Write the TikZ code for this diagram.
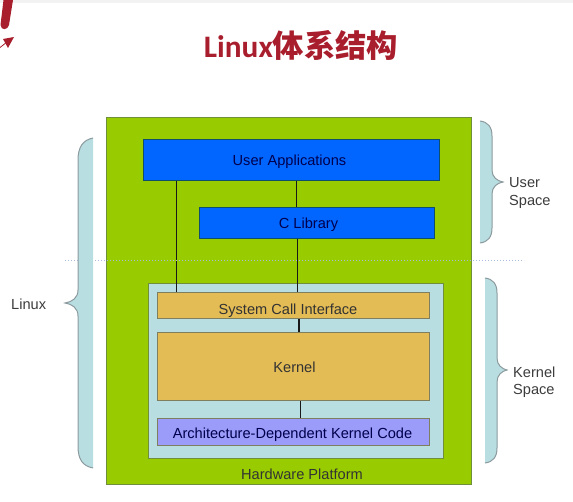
\documentclass[tikz,border=0pt]{standalone}
\usepackage{fontspec}
\setmainfont{Liberation Sans}
\newfontfamily\titlefont{Carlito}
\newfontfamily\cjk{Noto Sans CJK SC}
\definecolor{hwgreen}{HTML}{99CC00}
\definecolor{hwedge}{HTML}{6F8F3A}
\definecolor{appblue}{HTML}{0066FF}
\definecolor{appedge}{HTML}{0F4F6B}
\definecolor{kernback}{HTML}{B8DEE2}
\definecolor{kernfill}{HTML}{E4BC55}
\definecolor{kernedge}{HTML}{7F7F5F}
\definecolor{archfill}{HTML}{9B9BFA}
\definecolor{titlered}{HTML}{A91E2D}
\definecolor{dotblue}{HTML}{A9BBDD}
\definecolor{bracegray}{HTML}{8C9A9E}
\definecolor{labelgray}{HTML}{3C3C3C}
\tikzset{
  layer/.style={draw, line width=1pt, inner sep=0pt, anchor=north west},
  appbox/.style={layer, draw=appedge, fill=appblue},
  kernbox/.style={layer, draw=kernedge, fill=kernfill},
  apptext/.style={text=blue!30!black, inner sep=0pt},
  kerntext/.style={text=black!80, inner sep=0pt},
  link/.style={draw=black!90, line width=1.9pt},
  sidelabel/.style={text=labelgray, align=left, inner sep=0pt}
}
\begin{document}
\begin{tikzpicture}[x=1pt, y=-1pt, font=\fontsize{14.6}{17.5}\selectfont]
        \useasboundingbox (0,0) rectangle (573,502);
        % page furniture
        \fill[black!5] (0,0) rectangle (573,3);
        \fill[titlered] (3.5,0) -- (13,0) -- (9,25) .. controls (8,30) and (1,31) .. (0.5,25) -- cycle;
        \fill[titlered] (14,37) -- (3,39) -- (8,48) -- cycle;
        \draw[titlered, line width=0.8pt] (0,47.5) -- (7,42);
        \node[text=titlered, inner sep=0pt, font=\fontsize{31.3}{34}\selectfont\bfseries] (title) at (301,45) {{\titlefont Linux}{\cjk 体系结构}};
        % hardware and the nested layers
        \node[layer, draw=hwedge, fill=hwgreen, minimum width=365pt, minimum height=367pt] (hardware) at (106,117) {};
        \node[layer, draw=hwedge, fill=kernback, minimum width=295pt, minimum height=175pt] (kernspace) at (148,283) {};
        \node[appbox, minimum width=296pt, minimum height=41pt] (userapps) at (143,139) {};
        \node[appbox, minimum width=235pt, minimum height=31pt] (clib) at (199,207) {};
        \node[kernbox, minimum width=272pt, minimum height=26.5pt] (syscall) at (157,292) {};
        \node[kernbox, minimum width=272pt, minimum height=68pt] (kernel) at (157,332) {};
        \node[layer, draw=kernedge, fill=archfill, minimum width=272pt, minimum height=26.5pt] (arch) at (157,418) {};
        \node[apptext] (userappstext) at ([xshift=-2pt, yshift=-1.5pt]userapps) {User Applications};
        \node[apptext] (clibtext) at ([xshift=-8.5pt, yshift=-1.5pt]clib) {C Library};
        \node[kerntext] (syscalltext) at ([xshift=-5.5pt, yshift=-4.5pt]syscall) {System Call Interface};
        \node[kerntext] (kerneltext) at ([xshift=1pt, yshift=-0.5pt]kernel) {Kernel};
        \node[apptext] (archtext) at ([xshift=-1pt, yshift=-2.5pt]arch) {Architecture-Dependent Kernel Code};
        \node[kerntext] (hwlabel) at (302,474) {Hardware Platform};
        % connectors
        \draw[link] ([xshift=-115pt]userapps.south) -- ([xshift=-117pt]syscall.north);
        \draw[link] ([xshift=5pt]userapps.south) -- ([xshift=-20.5pt]clib.north);
        \draw[link] ([xshift=-19.5pt]clib.south) -- ([xshift=4pt]syscall.north);
        \draw[link] ([xshift=5.5pt]syscall.south) -- ([xshift=5.5pt]kernel.north);
        \draw[link] ([xshift=7pt]kernel.south) -- ([xshift=7pt]arch.north);
        % boundary between the spaces
        \draw[dotblue, line width=1pt, dotted] (65,260.7) -- (524,260.7);
        % braces
        \path[fill=kernback] (93,138) .. controls (83,140) and (78,147) .. (78,160) -- (78,290) .. controls (78,298) and (72,302) .. (65,303) .. controls (72,304) and (78,308) .. (78,316) -- (78,446) .. controls (78,460) and (83,466) .. (93,468) -- cycle;
        \draw[bracegray, line width=1pt] (93,138) .. controls (83,140) and (78,147) .. (78,160) -- (78,290) .. controls (78,298) and (72,302) .. (65,303) .. controls (72,304) and (78,308) .. (78,316) -- (78,446) .. controls (78,460) and (83,466) .. (93,468);
        \path[fill=kernback] (480,121) .. controls (488,122) and (492,127) .. (492,136) -- (492,170) .. controls (492,177) and (497,181) .. (503,182) .. controls (497,183) and (492,187) .. (492,194) -- (492,228) .. controls (492,237) and (488,242) .. (480,243) -- cycle;
        \draw[bracegray, line width=1pt] (480,121) .. controls (488,122) and (492,127) .. (492,136) -- (492,170) .. controls (492,177) and (497,181) .. (503,182) .. controls (497,183) and (492,187) .. (492,194) -- (492,228) .. controls (492,237) and (488,242) .. (480,243);
        \path[fill=kernback] (485,278) .. controls (493,279) and (497,284) .. (497,293) -- (497,358) .. controls (497,365) and (502,369) .. (507,370) .. controls (502,371) and (497,375) .. (497,382) -- (497,448) .. controls (497,457) and (493,462) .. (485,463) -- cycle;
        \draw[bracegray, line width=1pt] (485,278) .. controls (493,279) and (497,284) .. (497,293) -- (497,358) .. controls (497,365) and (502,369) .. (507,370) .. controls (502,371) and (497,375) .. (497,382) -- (497,448) .. controls (497,457) and (493,462) .. (485,463);
        % side labels
        \node[sidelabel, anchor=west] (linuxlabel) at (11,304) {Linux};
        \node[sidelabel, anchor=west] (userlabel) at (509,193) {User\\Space};
        \node[sidelabel, anchor=west] (kernlabel) at (513,382) {Kernel\\Space};
    \end{tikzpicture}
\end{document}
